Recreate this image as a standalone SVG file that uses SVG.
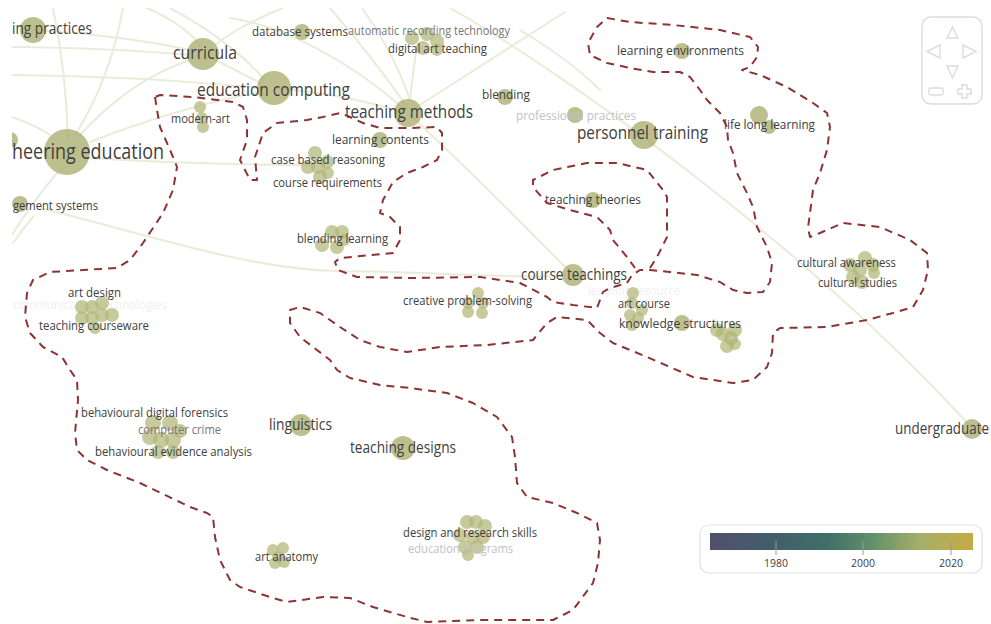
<svg xmlns="http://www.w3.org/2000/svg" width="991" height="624" viewBox="0 0 991 624">
<defs>
<style>
.e{fill:none;stroke:#ebebda;stroke-width:2;stroke-linecap:round}
.n{fill:#a7ab68;fill-opacity:.75}
.s{fill:#b2b677;fill-opacity:.72}
text{font-family:"Open Sans","DejaVu Sans",sans-serif;fill:#404040}
.g{fill:#777}
.l{fill:#c2c2c2}
.f{fill:#efefef}
.r{fill:none;stroke:#8c3333;stroke-width:2;stroke-dasharray:8 6;stroke-linejoin:round;stroke-linecap:butt}
.nav{fill:none;stroke:#dcdcdc;stroke-width:1.4}
</style>
<clipPath id="clip"><rect x="12" y="8" width="979" height="616"/></clipPath>
<linearGradient id="grad" x1="0" y1="0" x2="1" y2="0">
<stop offset="0" stop-color="#524f6c"/>
<stop offset="0.22" stop-color="#435d6b"/>
<stop offset="0.45" stop-color="#3e7067"/>
<stop offset="0.62" stop-color="#63916a"/>
<stop offset="0.8" stop-color="#a6af69"/>
<stop offset="1" stop-color="#c6ab44"/>
</linearGradient>
</defs>
<rect width="991" height="624" fill="#ffffff"/>
<g clip-path="url(#clip)">
<g id="edges">
<path class="e" d="M53,8 Q66,70 68,140"/>
<path class="e" d="M123,8 Q110,80 75,135"/>
<path class="e" d="M12,47 Q110,48 190,55"/>
<path class="e" d="M12,75 Q140,76 260,88"/>
<path class="e" d="M33,30 Q120,35 190,50"/>
<path class="e" d="M147,8 Q185,25 200,45"/>
<path class="e" d="M80,135 Q130,80 190,60"/>
<path class="e" d="M90,142 Q170,110 258,92"/>
<path class="e" d="M90,158 Q200,165 315,165"/>
<path class="e" d="M58,172 Q30,205 12,235"/>
<path class="e" d="M12,117 Q35,125 50,135"/>
<path class="e" d="M215,60 Q240,72 262,84"/>
<path class="e" d="M283,8 Q240,25 215,45"/>
<path class="e" d="M170,8 Q230,40 265,80"/>
<path class="e" d="M230,18 C280,25 350,60 405,110"/>
<path class="e" d="M330,8 Q375,60 407,107"/>
<path class="e" d="M362,8 Q395,55 410,100"/>
<path class="e" d="M417,45 Q412,80 410,100"/>
<path class="e" d="M275,88 Q350,95 405,113"/>
<path class="e" d="M415,108 Q490,60 565,12"/>
<path class="e" d="M410,115 Q480,180 573,275"/>
<path class="e" d="M450,8 C560,70 800,240 972,428"/>
<path class="e" d="M520,30 Q570,60 600,90"/>
<path class="e" d="M33,217 Q22,230 13,243"/>
<path class="e" d="M40,208 C150,235 250,270 340,271 S500,278 567,276"/>
</g>
<g id="n-ing-practices"><circle class="n" cx="33" cy="30" r="13"/><text x="12" y="34" font-size="16" textLength="80" lengthAdjust="spacingAndGlyphs">ing practices</text></g>
<g id="n-curricula"><circle class="n" cx="203" cy="54" r="16"/><text x="173" y="59" font-size="19" textLength="64" lengthAdjust="spacingAndGlyphs">curricula</text></g>
<g id="n-database-systems"><circle class="n" cx="302" cy="32" r="8"/><text x="252" y="36" font-size="13" textLength="96" lengthAdjust="spacingAndGlyphs">database systems</text></g>
<g id="n-digital-art-teaching"><circle class="s" cx="412" cy="38" r="7"/><circle class="s" cx="427" cy="34" r="7"/><circle class="s" cx="437" cy="41" r="7"/><circle class="s" cx="423" cy="48" r="7"/><circle class="s" cx="437" cy="50" r="6"/><text class="g" x="348" y="35" font-size="12.5" textLength="162" lengthAdjust="spacingAndGlyphs">automatic recording technology</text><text x="388" y="53" font-size="12.5" textLength="99" lengthAdjust="spacingAndGlyphs">digital art teaching</text></g>
<g id="n-education-computing"><circle class="n" cx="274" cy="88" r="17"/><text x="197" y="96" font-size="19" textLength="153" lengthAdjust="spacingAndGlyphs">education computing</text></g>
<g id="n-teaching-methods"><circle class="n" cx="408" cy="113" r="14"/><text x="345" y="118" font-size="18" textLength="128" lengthAdjust="spacingAndGlyphs">teaching methods</text></g>
<g id="n-blending"><circle class="n" cx="505" cy="97" r="8"/><text x="482" y="99" font-size="13.5" textLength="48" lengthAdjust="spacingAndGlyphs">blending</text></g>
<g id="n-professional-practices"><circle class="n" cx="575" cy="115" r="8"/><text class="l" x="516" y="120" font-size="13" textLength="120" lengthAdjust="spacingAndGlyphs">professional practices</text></g>
<g id="n-personnel-training"><circle class="n" cx="644" cy="135" r="14"/><text x="577" y="139" font-size="18" textLength="131" lengthAdjust="spacingAndGlyphs">personnel training</text></g>
<g id="n-learning-environments"><circle class="n" cx="682" cy="51" r="8"/><text x="617" y="55" font-size="13" textLength="127" lengthAdjust="spacingAndGlyphs">learning environments</text></g>
<g id="n-life-long-learning"><circle class="n" cx="759" cy="115" r="9"/><circle class="n" cx="769" cy="127" r="7"/><text x="724" y="129" font-size="13" textLength="91" lengthAdjust="spacingAndGlyphs">life long learning</text></g>
<g id="n-engineering-education"><circle class="n" cx="10" cy="140" r="8"/><circle class="n" cx="67" cy="152" r="23"/><text x="12" y="159" font-size="22" textLength="152" lengthAdjust="spacingAndGlyphs">heering education</text></g>
<g id="n-modern-art"><circle class="s" cx="200" cy="107" r="6"/><circle class="s" cx="202" cy="118" r="6"/><circle class="s" cx="203" cy="127" r="6"/><text x="171" y="123" font-size="12" textLength="59" lengthAdjust="spacingAndGlyphs">modern-art</text></g>
<g id="n-learning-contents"><circle class="n" cx="380" cy="140" r="8"/><text x="332" y="144" font-size="13" textLength="97" lengthAdjust="spacingAndGlyphs">learning contents</text></g>
<g id="n-case-based-reasoning"><circle class="s" cx="315" cy="153" r="7"/><circle class="s" cx="308" cy="167" r="7"/><circle class="s" cx="318" cy="167" r="7"/><circle class="s" cx="327" cy="162" r="7"/><circle class="s" cx="320" cy="177" r="7"/><circle class="s" cx="328" cy="173" r="6"/><text x="271" y="164" font-size="12.5" textLength="114" lengthAdjust="spacingAndGlyphs">case based reasoning</text><text x="273" y="187" font-size="12.5" textLength="109" lengthAdjust="spacingAndGlyphs">course requirements</text></g>
<g id="n-management-systems"><circle class="n" cx="20" cy="204" r="8"/><text x="13" y="210" font-size="12.5" textLength="85" lengthAdjust="spacingAndGlyphs">gement systems</text></g>
<g id="n-blending-learning"><circle class="s" cx="332" cy="232" r="7"/><circle class="s" cx="342" cy="232" r="7"/><circle class="s" cx="322" cy="245" r="7"/><circle class="s" cx="337" cy="247" r="7"/><circle class="s" cx="344" cy="240" r="6"/><text x="297" y="243" font-size="12.5" textLength="91" lengthAdjust="spacingAndGlyphs">blending learning</text></g>
<g id="n-teaching-theories"><circle class="n" cx="593" cy="200" r="8"/><text x="545" y="204" font-size="13" textLength="96" lengthAdjust="spacingAndGlyphs">teaching theories</text></g>
<g id="n-course-teachings"><circle class="n" cx="573" cy="275" r="11"/><text x="521" y="280" font-size="16" textLength="106" lengthAdjust="spacingAndGlyphs">course teachings</text></g>
<g id="n-creative-problem-solving"><circle class="s" cx="478" cy="293" r="6"/><circle class="s" cx="468" cy="303" r="6"/><circle class="s" cx="483" cy="303" r="6"/><circle class="s" cx="468" cy="312" r="6"/><circle class="s" cx="482" cy="313" r="6"/><text x="403" y="305" font-size="12.5" textLength="129" lengthAdjust="spacingAndGlyphs">creative problem-solving</text></g>
<g id="n-art-design"><text class="f" x="13" y="309" font-size="12.5" textLength="154" lengthAdjust="spacingAndGlyphs">communication technologies</text><circle class="s" cx="82" cy="307" r="7"/><circle class="s" cx="92" cy="307" r="7"/><circle class="s" cx="102" cy="303" r="7"/><circle class="s" cx="82" cy="318" r="7"/><circle class="s" cx="92" cy="318" r="7"/><circle class="s" cx="102" cy="315" r="7"/><circle class="s" cx="112" cy="315" r="7"/><circle class="s" cx="95" cy="328" r="6"/><text x="68" y="297" font-size="12.5" textLength="53" lengthAdjust="spacingAndGlyphs">art design</text><text x="39" y="330" font-size="12.5" textLength="110" lengthAdjust="spacingAndGlyphs">teaching courseware</text></g>
<g id="n-art-course"><text class="f" x="588" y="295" font-size="12.5" textLength="92" lengthAdjust="spacingAndGlyphs">learning resource</text><circle class="s" cx="633" cy="293" r="6"/><circle class="s" cx="632" cy="303" r="6"/><circle class="s" cx="642" cy="310" r="6"/><circle class="s" cx="630" cy="315" r="6"/><circle class="s" cx="638" cy="318" r="6"/><circle class="s" cx="632" cy="325" r="6"/><text x="618" y="308" font-size="12.5" textLength="52" lengthAdjust="spacingAndGlyphs">art course</text></g>
<g id="n-knowledge-structures"><circle class="n" cx="682" cy="323" r="8"/><circle class="s" cx="717" cy="330" r="7"/><circle class="s" cx="735" cy="330" r="7"/><circle class="s" cx="723" cy="334" r="7"/><circle class="s" cx="731" cy="338" r="7"/><circle class="s" cx="727" cy="346" r="7"/><circle class="s" cx="735" cy="344" r="6"/><text x="619" y="328" font-size="13.5" textLength="122" lengthAdjust="spacingAndGlyphs">knowledge structures</text></g>
<g id="n-cultural-awareness"><circle class="s" cx="865" cy="258" r="7"/><circle class="s" cx="873" cy="265" r="7"/><circle class="s" cx="850" cy="265" r="7"/><circle class="s" cx="860" cy="270" r="7"/><circle class="s" cx="853" cy="277" r="7"/><circle class="s" cx="862" cy="282" r="7"/><circle class="s" cx="874" cy="273" r="6"/><text x="797" y="267" font-size="12.5" textLength="99" lengthAdjust="spacingAndGlyphs">cultural awareness</text><text x="818" y="287" font-size="12.5" textLength="79" lengthAdjust="spacingAndGlyphs">cultural studies</text></g>
<g id="n-undergraduate"><circle class="n" cx="972" cy="429" r="10"/><text x="895" y="434" font-size="16" textLength="94" lengthAdjust="spacingAndGlyphs">undergraduate</text></g>
<g id="n-behavioural-digital-forensics"><circle class="s" cx="153" cy="423" r="8"/><circle class="s" cx="170" cy="423" r="8"/><circle class="s" cx="180" cy="431" r="7"/><circle class="s" cx="150" cy="437" r="8"/><circle class="s" cx="161" cy="440" r="8"/><circle class="s" cx="173" cy="440" r="8"/><circle class="s" cx="158" cy="452" r="7"/><circle class="s" cx="173" cy="452" r="7"/><text x="81" y="417" font-size="12.5" textLength="147" lengthAdjust="spacingAndGlyphs">behavioural digital forensics</text><text class="g" x="138" y="434" font-size="12.5" textLength="83" lengthAdjust="spacingAndGlyphs">computer crime</text><text x="95" y="456" font-size="12.5" textLength="157" lengthAdjust="spacingAndGlyphs">behavioural evidence analysis</text></g>
<g id="n-linguistics"><circle class="n" cx="301" cy="425" r="11"/><text x="269" y="430" font-size="16" textLength="63" lengthAdjust="spacingAndGlyphs">linguistics</text></g>
<g id="n-teaching-designs"><circle class="n" cx="403" cy="448" r="12"/><text x="350" y="453" font-size="16" textLength="106" lengthAdjust="spacingAndGlyphs">teaching designs</text></g>
<g id="n-design-research-skills"><circle class="s" cx="467" cy="522" r="7"/><circle class="s" cx="476" cy="522" r="7"/><circle class="s" cx="485" cy="526" r="7"/><circle class="s" cx="460" cy="535" r="7"/><circle class="s" cx="473" cy="537" r="7"/><circle class="s" cx="483" cy="537" r="7"/><circle class="s" cx="465" cy="547" r="7"/><circle class="s" cx="477" cy="547" r="7"/><circle class="s" cx="468" cy="555" r="6"/><text x="403" y="537" font-size="12.5" textLength="134" lengthAdjust="spacingAndGlyphs">design and research skills</text><text class="l" x="408" y="553" font-size="12.5" textLength="105" lengthAdjust="spacingAndGlyphs">education programs</text></g>
<g id="n-art-anatomy"><circle class="s" cx="273" cy="550" r="6"/><circle class="s" cx="283" cy="548" r="6"/><circle class="s" cx="278" cy="557" r="6"/><circle class="s" cx="275" cy="563" r="6"/><circle class="s" cx="284" cy="562" r="6"/><text x="255" y="561" font-size="12.5" textLength="63" lengthAdjust="spacingAndGlyphs">art anatomy</text></g>
</g>
<g id="regions">
<path class="r" d="M155,97 L157,110 L160,127 L167,143 L173,157 L177,167 L173,190 L163,213 L143,243 L130,260 L117,268 L83,270 L50,272 L33,280 L27,293 L25,317 L30,333 L43,347 L62,357 L70,370 L77,380 L78,400 L75,433 L77,450 L87,460 L107,470 L140,483 L190,507 L207,513 L213,517 L215,537 L220,560 L230,580 L240,587 L273,598 L287,602 L323,597 L350,598 L373,607 L407,617 L427,622 L480,620 L520,620 L553,620 L573,610 L593,583 L598,563 L600,540 L597,523 L577,513 L553,503 L527,497 L517,483 L515,457 L512,437 L497,417 L473,403 L447,393 L410,388 L380,385 L350,378 L337,370 L330,360 L300,337 L290,323 L290,310 L300,307 L320,313 L340,327 L360,340 L380,347 L407,352 L440,347 L487,345 L533,340 L547,323 L557,317 L587,320 L600,333 L613,343 L647,357 L693,377 L733,383 L753,380 L767,367 L772,353 L773,333 L780,328 L827,327 L867,320 L893,313 L913,307 L923,290 L928,270 L927,253 L910,240 L880,227 L843,223 L820,233 L810,237 L808,228 L810,213 L813,190 L820,173 L827,150 L830,127 L827,113 L813,103 L787,87 L760,75 L742,70 L750,67 L757,57 L758,47 L750,37 L720,30 L673,25 L630,22 L607,18 L597,27 L588,43 L590,55 L607,63 L630,68 L653,72 L680,72 L690,77 L700,90 L707,100 L720,113 L727,127 L728,140 L733,153 L737,173 L747,193 L753,207 L757,227 L767,247 L772,263 L770,282 L763,292 L747,293 L733,290 L720,282 L697,275 L670,272 L650,270 L640,270 L632,275 L627,283 L610,288 L603,292 L600,300 L597,308 L573,305 L553,302 L547,297 L520,283 L480,277 L413,278 L357,277 L338,270 L335,262 L340,258 L393,253 L400,240 L400,227 L390,217 L380,213 L383,200 L393,182 L407,173 L423,167 L437,160 L442,150 L442,133 L437,127 L410,128 L380,128 L363,123 L350,117 L340,113 L323,117 L307,120 L277,123 L263,133 L255,157 L257,180 L250,180 L240,160 L247,140 L247,120 L243,107 L233,102 L193,97 L160,95 Z"/>
<path class="r" d="M650,268 L657,257 L667,237 L667,197 L663,190 L647,170 L617,163 L587,163 L553,170 L533,180 L533,187 L547,203 L570,210 L597,217 L610,230 L613,240 L627,257 L635,268"/>
</g>
<g id="navigation">
<rect class="nav" x="922" y="17" width="60" height="87" rx="9"/>
<polygon class="nav" points="952.5,27 958,38 947,38"/>
<polygon class="nav" points="927,51.5 940,45 940,58"/>
<polygon class="nav" points="976,51.5 963,45 963,58"/>
<polygon class="nav" points="952.5,78 958,66 947,66"/>
<rect class="nav" x="929" y="88" width="14" height="7" rx="2"/>
<path class="nav" d="M962,85 h5 v4 h4 v5 h-4 v4 h-5 v-4 h-4 v-5 h4 Z"/>
</g>
<g id="legend">
<rect x="700" y="525" width="282" height="48" rx="9" fill="#ffffff" stroke="#e2e2e2" stroke-width="1.2"/>
<rect x="710" y="533" width="263" height="17" fill="url(#grad)"/>
<line x1="776" y1="541" x2="776" y2="555" stroke="#9a9a9a" stroke-width="1"/>
<line x1="863" y1="541" x2="863" y2="555" stroke="#9a9a9a" stroke-width="1"/>
<line x1="951" y1="541" x2="951" y2="555" stroke="#9a9a9a" stroke-width="1"/>
<text x="776" y="567" font-size="10.5" text-anchor="middle" fill="#555">1980</text>
<text x="863" y="567" font-size="10.5" text-anchor="middle" fill="#555">2000</text>
<text x="951" y="567" font-size="10.5" text-anchor="middle" fill="#555">2020</text>
</g>
</svg>
